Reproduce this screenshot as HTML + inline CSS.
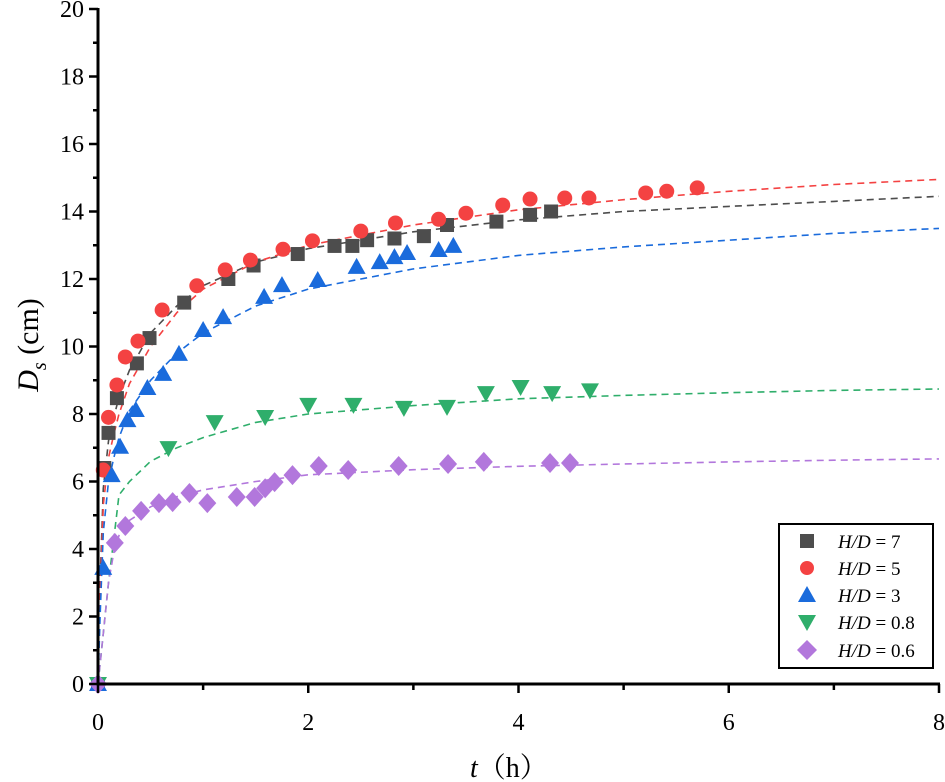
<!DOCTYPE html>
<html><head><meta charset="utf-8">
<style>
html,body{margin:0;padding:0;background:#fff;}
svg{display:block;font-family:"Liberation Serif",serif;}
</style></head>
<body>
<svg id="chart" width="945" height="782" viewBox="0 0 945 782" xmlns="http://www.w3.org/2000/svg"></svg>
<script>
// ---- data ----
const xTicks = [0, 2, 4, 6, 8];
const yTicks = [0, 2, 4, 6, 8, 10, 12, 14, 16, 18, 20];
const seriesNames = ["H/D = 7", "H/D = 5", "H/D = 3", "H/D = 0.8", "H/D = 0.6"];
const t7 = [0, 0.06, 0.1, 0.18, 0.37, 0.49, 0.82, 1.24, 1.48, 1.9, 2.25, 2.42, 2.56, 2.82, 3.1, 3.32, 3.79, 4.11, 4.31];
const d7 = [0, 6.4, 7.44, 8.47, 9.5, 10.25, 11.3, 12.0, 12.4, 12.74, 12.98, 12.98, 13.15, 13.2, 13.27, 13.6, 13.7, 13.9, 14.0];
const t5 = [0.05, 0.1, 0.18, 0.26, 0.38, 0.61, 0.94, 1.21, 1.45, 1.76, 2.04, 2.5, 2.83, 3.24, 3.5, 3.85, 4.11, 4.44, 4.67, 5.21, 5.41, 5.7];
const d5 = [6.34, 7.9, 8.86, 9.69, 10.16, 11.08, 11.8, 12.27, 12.56, 12.88, 13.13, 13.42, 13.66, 13.77, 13.95, 14.19, 14.37, 14.4, 14.4, 14.55, 14.6, 14.7];
const t3 = [0, 0.05, 0.13, 0.21, 0.28, 0.36, 0.47, 0.62, 0.77, 1.0, 1.19, 1.58, 1.75, 2.09, 2.46, 2.68, 2.82, 2.94, 3.24, 3.38];
const d3 = [0, 3.44, 6.19, 7.03, 7.82, 8.12, 8.77, 9.19, 9.78, 10.49, 10.87, 11.47, 11.82, 11.97, 12.36, 12.5, 12.65, 12.77, 12.86, 12.98];
const t08 = [0, 0.67, 1.11, 1.59, 2.0, 2.43, 2.91, 3.32, 3.69, 4.02, 4.32, 4.68];
const d08 = [0, 6.99, 7.76, 7.91, 8.27, 8.27, 8.18, 8.21, 8.62, 8.8, 8.62, 8.7];
const t06 = [0, 0.16, 0.26, 0.41, 0.58, 0.71, 0.87, 1.04, 1.32, 1.49, 1.59, 1.68, 1.85, 2.1, 2.38, 2.86, 3.33, 3.67, 4.3, 4.49];
const d06 = [0, 4.18, 4.68, 5.13, 5.36, 5.39, 5.66, 5.36, 5.54, 5.54, 5.8, 5.98, 6.19, 6.46, 6.34, 6.46, 6.52, 6.58, 6.55, 6.55];
// fitted curves (sampled)
const fitT = [0, 0.02, 0.05, 0.1, 0.15, 0.2, 0.3, 0.5, 0.75, 1, 1.5, 2, 3, 4, 5, 6, 7, 8];
const fit7 = [0, 3.0, 5.8, 7.2, 7.9, 8.5, 9.3, 10.4, 11.2, 11.8, 12.5, 12.9, 13.4, 13.75, 14.0, 14.15, 14.3, 14.45];
const fit5 = [0, 2.6, 5.3, 6.7, 7.4, 8.0, 8.9, 10.0, 11.0, 11.7, 12.5, 13.0, 13.6, 14.05, 14.35, 14.6, 14.8, 14.95];
const fit3 = [0, 2.0, 4.5, 6.0, 6.7, 7.3, 8.1, 9.0, 9.8, 10.4, 11.2, 11.7, 12.3, 12.7, 12.95, 13.15, 13.35, 13.5];
const fit08 = [0, 0.6, 1.5, 3.0, 4.3, 5.6, 6.0, 6.6, 7.0, 7.3, 7.75, 8.0, 8.25, 8.45, 8.55, 8.63, 8.7, 8.74];
const fit06 = [0, 0.6, 1.5, 3.0, 3.9, 4.4, 4.85, 5.25, 5.55, 5.75, 6.0, 6.2, 6.35, 6.45, 6.52, 6.58, 6.63, 6.67];

const NS = "http://www.w3.org/2000/svg";
const svg = document.getElementById("chart");
const X0 = 98, X1 = 939, Y0 = 684, Y1 = 9;
function xs(v){ return X0 + (v - 0) / 8 * (X1 - X0); }
function ys(v){ return Y0 - v / 20 * (Y0 - Y1); }
function mk(tag, attrs, parent){
  const e = document.createElementNS(NS, tag);
  for (const k in attrs) e.setAttribute(k, attrs[k]);
  (parent || svg).appendChild(e);
  return e;
}
const colors = ["#4d4d4d", "#f44242", "#1a6bdc", "#2fae6b", "#b277dc"];

// fits
const fits = [fit7, fit5, fit3, fit08, fit06];
const fitNames = ["fit-line-hd7", "fit-line-hd5", "fit-line-hd3", "fit-line-hd08", "fit-line-hd06"];
fits.forEach((arr, i) => {
  const d = arr.map((v, j) => (j ? "L" : "M") + xs(fitT[j]).toFixed(1) + " " + ys(v).toFixed(1)).join(" ");
  const p = mk("path", {d: d, fill: "none", stroke: colors[i], "stroke-width": 1.6, "stroke-dasharray": "7 5"});
  
  
});

function marker(type, cx, cy, color, parent){
  const s = 7;
  let e;
  if (type === 0) e = mk("rect", {x: cx - s, y: cy - s, width: 2*s, height: 2*s, fill: color}, parent);
  else if (type === 1) e = mk("circle", {cx: cx, cy: cy, r: 7.5, fill: color}, parent);
  else if (type === 2) e = mk("polygon", {points: `${cx},${cy-9} ${cx-9},${cy+7} ${cx+9},${cy+7}`, fill: color}, parent);
  else if (type === 3) e = mk("polygon", {points: `${cx},${cy+9} ${cx-9},${cy-7} ${cx+9},${cy-7}`, fill: color}, parent);
  else e = mk("polygon", {points: `${cx},${cy-10} ${cx+9},${cy} ${cx},${cy+10} ${cx-9},${cy}`, fill: color}, parent);
  return e;
}
const sets = [[t7,d7],[t5,d5],[t3,d3],[t08,d08],[t06,d06]];
const ptNames = ["point-hd7", "point-hd5", "point-hd3", "point-hd08", "point-hd06"];
sets.forEach((s, i) => {
  const g = mk("g", {});
  
  
  s[0].forEach((t, j) => {
    const m = marker(i, xs(t), ys(s[1][j]), colors[i], g);
    
    
  });
});

// axes
const ax = mk("g", {stroke: "#000", "stroke-width": 3});


mk("line", {x1: X0, y1: Y1 - 1, x2: X0, y2: Y0 + 1.5}, ax);
mk("line", {x1: X0 - 1.5, y1: Y0, x2: X1 + 1, y2: Y0}, ax);
for (let v = 0; v <= 20; v++) {
  const l = mk("line", {x1: X0 - (v % 2 ? 5 : 9), y1: ys(v), x2: X0, y2: ys(v), "stroke-width": 2.5}, ax);
}
for (let v = 0; v <= 8; v++) {
  mk("line", {x1: xs(v), y1: Y0, x2: xs(v), y2: Y0 + (v % 2 ? 6 : 9), "stroke-width": 2.5}, ax);
}
yTicks.forEach(v => {
  const t = mk("text", {x: X0 - 14, y: ys(v) + 8, "text-anchor": "end", "font-size": 24, fill: "#000"});
  t.textContent = v;
  
  
});
xTicks.forEach(v => {
  const t = mk("text", {x: xs(v), y: 730, "text-anchor": "middle", "font-size": 24, fill: "#000"});
  t.textContent = v;
  
  
});
</script>
<svg style="position:absolute;left:0;top:0" width="945" height="782">
  <text x="470" y="777" font-family="'Liberation Serif','Noto Serif CJK SC',serif" font-size="28"><tspan font-style="italic">t</tspan>（h）</text>
  <text transform="translate(38,345) rotate(-90)" text-anchor="middle" font-family="'Liberation Serif',serif" font-size="30"><tspan font-style="italic">D</tspan><tspan font-style="italic" font-size="20" dy="8">s</tspan><tspan dy="-8"> (cm)</tspan></text>
  <g font-family="'Liberation Serif',serif" font-size="19">
    <rect x="779" y="524" width="154" height="144" fill="#fff" stroke="#000" stroke-width="2"/>
    <rect x="800" y="534" width="14" height="14" fill="#4d4d4d"/>
    <text x="838" y="548"><tspan font-style="italic">H/D</tspan> = 7</text>
    <circle cx="807" cy="568" r="7" fill="#f44242"/>
    <text x="838" y="575"><tspan font-style="italic">H/D</tspan> = 5</text>
    <polygon points="807,586 798,602 816,602" fill="#1a6bdc"/>
    <text x="838" y="602"><tspan font-style="italic">H/D</tspan> = 3</text>
    <polygon points="807,631 798,615 816,615" fill="#2fae6b"/>
    <text x="838" y="629"><tspan font-style="italic">H/D</tspan> = 0.8</text>
    <polygon points="807,640 817,650 807,660 797,650" fill="#b277dc"/>
    <text x="838" y="657"><tspan font-style="italic">H/D</tspan> = 0.6</text>
  </g>
</svg>
</body></html>
